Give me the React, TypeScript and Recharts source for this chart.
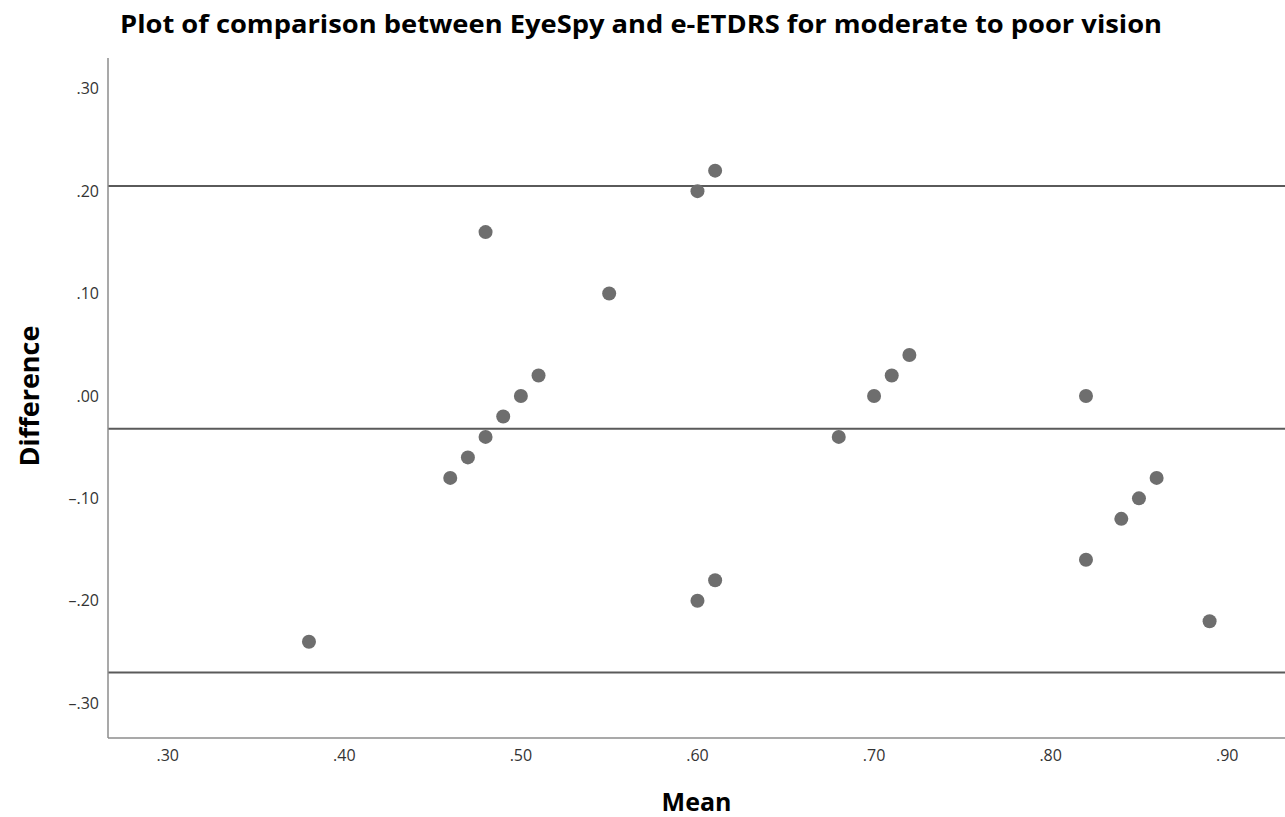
import { ScatterChart, Scatter, XAxis, YAxis, ReferenceLine } from "recharts";

// Bland-Altman style plot: mean of the two tests vs. their difference
const meanValues = [
  0.38, 0.46, 0.47, 0.48, 0.48, 0.49, 0.5, 0.51, 0.55, 0.6, 0.61, 0.6, 0.61, 0.68, 0.7, 0.71,
  0.72, 0.82, 0.82, 0.84, 0.85, 0.86, 0.89,
];
const diffValues = [
  -0.24, -0.08, -0.06, -0.04, 0.16, -0.02, 0.0, 0.02, 0.1, 0.2, 0.22, -0.2, -0.18, -0.04, 0.0,
  0.02, 0.04, 0.0, -0.16, -0.12, -0.1, -0.08, -0.22,
];
const xTicks = [0.3, 0.4, 0.5, 0.6, 0.7, 0.8, 0.9];
const yTicks = [-0.3, -0.2, -0.1, 0.0, 0.1, 0.2, 0.3];
const upperLimit = 0.205;
const meanDiff = -0.032;
const lowerLimit = -0.27;

const points = meanValues.map((m, i) => ({ mean: m, diff: diffValues[i] }));

const fmt = (v: number) => {
  const s = Math.abs(v).toFixed(2).replace(/^0/, "");
  return v < -1e-9 ? "\u2013" + s : s;
};

const FONT = "'Open Sans', 'DejaVu Sans', sans-serif";
const tickStyle = { fontSize: 16, fill: "#333", fontFamily: FONT };

export default function App() {
  return (
    <div style={{ position: "absolute", left: 0, top: 0, width: 1285, height: 817, background: "#fff" }}>
      <svg width={1285} height={50} style={{ position: "absolute", left: 0, top: 0 }}>
        <text
          x={641}
          y={33}
          textAnchor="middle"
          textLength={1042}
          lengthAdjust="spacingAndGlyphs"
          style={{ fontSize: 25, fontWeight: 700, fontFamily: FONT, fill: "#000" }}
        >
          Plot of comparison between EyeSpy and e-ETDRS for moderate to poor vision
        </text>
      </svg>
      <ScatterChart width={1285} height={817} margin={{ top: 58, right: 0, bottom: 0, left: 0 }}>
        <XAxis
          type="number"
          dataKey="mean"
          domain={[0.2662, 0.9327]}
          ticks={xTicks}
          allowDataOverflow
          tickFormatter={fmt}
          tickLine={false}
          tickSize={0}
          tickMargin={12}
          height={79}
          tick={tickStyle}
          axisLine={{ stroke: "#8c8c8c", strokeWidth: 1.5 }}
          label={{
            content: (p: any) => (
              <text
                x={p.viewBox.x + p.viewBox.width / 2}
                y={p.viewBox.y + 73}
                textAnchor="middle"
                style={{ fontSize: 25, fontWeight: 700, fontFamily: FONT, fill: "#000" }}
              >
                Mean
              </text>
            ),
          }}
        />
        <YAxis
          type="number"
          dataKey="diff"
          domain={[-0.334, 0.33]}
          ticks={yTicks}
          allowDataOverflow
          tickFormatter={fmt}
          tickLine={false}
          tickSize={0}
          tickMargin={9}
          width={108}
          tick={tickStyle}
          axisLine={{ stroke: "#8c8c8c", strokeWidth: 1.5 }}
          label={{
            content: (p: any) => {
              const cx = p.viewBox.x + 28;
              const cy = p.viewBox.y + p.viewBox.height / 2 - 2;
              return (
                <text
                  x={cx}
                  y={cy}
                  transform={`rotate(-90 ${cx} ${cy})`}
                  textAnchor="middle"
                  dominantBaseline="central"
                  style={{ fontSize: 27, fontWeight: 700, fontFamily: FONT, fill: "#000" }}
                >
                  Difference
                </text>
              );
            },
          }}
        />
        <ReferenceLine y={upperLimit} stroke="#5a5a5a" strokeWidth={2} />
        <ReferenceLine y={meanDiff} stroke="#5a5a5a" strokeWidth={2} />
        <ReferenceLine y={lowerLimit} stroke="#5a5a5a" strokeWidth={2} />
        <Scatter
          data={points}
          isAnimationActive={false}
          shape={(p: any) => <circle cx={p.cx} cy={p.cy} r={7} fill="#6e6e6e" />}
        />
      </ScatterChart>
    </div>
  );
}
